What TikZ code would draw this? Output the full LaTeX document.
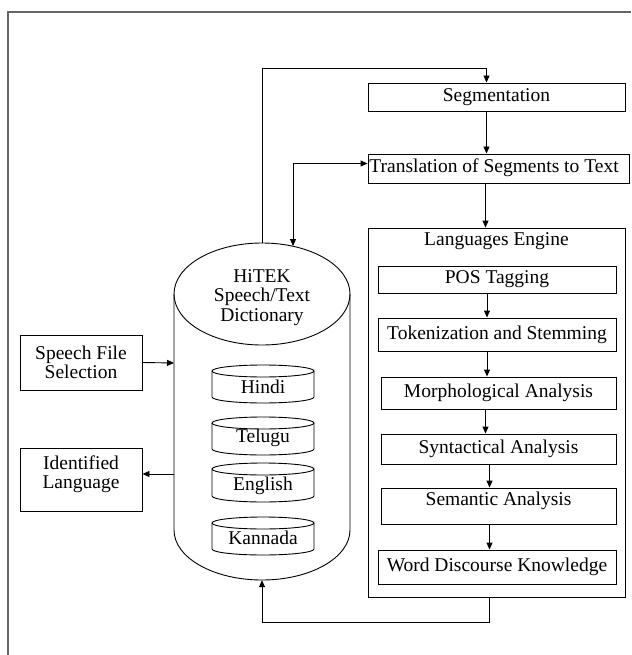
\documentclass[tikz,border=0pt]{standalone}
\usepackage{fontspec}
\setmainfont{Liberation Serif}
\usetikzlibrary{arrows.meta,calc}
\begin{document}
\begin{tikzpicture}[x=1pt,y=-1pt,
  every node/.style={font=\fontsize{19.5}{19.5}\selectfont, inner sep=0pt},
  box/.style={draw, line width=0.9pt},
  shp/.style={draw, line width=0.9pt},
  arr/.style={draw, line width=0.9pt, -{Triangle[length=7pt,width=6pt]}},
  arrtwo/.style={draw, line width=0.9pt, {Triangle[length=7pt,width=6pt]}-{Triangle[length=7pt,width=6pt]}}]
\useasboundingbox (0,0) rectangle (631,655);
% outer frame
\draw[gray!80!black, line width=1.2pt] (8,655) -- (8,12) -- (631,12);

% right column
\node[box, minimum width=257pt, minimum height=28pt] (seg) at (496.5,97) {Segmentation};
\node[box, minimum width=261pt, minimum height=29pt] (trans) at (498.5,168.5) {};
\node (transt) at (494,167.5) {Translation of Segments to Text};
\node[box, minimum width=257pt, minimum height=369pt] (eng) at (496.5,412.5) {};
\node (engt) at ([yshift=-14pt]eng.north) {Languages Engine};
\node[box, minimum width=238pt, minimum height=27pt] (pos) at (497,279.5) {POS Tagging};
\node[box, minimum width=238pt, minimum height=33pt] (tok) at (497,334.5) {Tokenization and Stemming};
\node[box, minimum width=235pt, minimum height=32pt] (morph) at (498.5,393) {Morphological Analysis};
\node[box, minimum width=235pt, minimum height=30pt] (synt) at (498.5,449) {Syntactical Analysis};
\node[box, minimum width=235pt, minimum height=36pt] (sem) at (498.5,506) {};
\node (semt) at (498.5,501) {Semantic Analysis};
\node[box, minimum width=238pt, minimum height=34pt] (word) at (497,567) {Word Discourse Knowledge};

% left boxes
\node[box, minimum width=122pt, minimum height=55pt, align=center] (speech) at (81,362.5) {Speech File\\Selection};
\node[box, minimum width=122pt, minimum height=63pt] (ident) at (81,479.5) {};
\node[align=center] (identt) at (81,474) {Identified\\Language};

% big cylinder (dictionary)
\node[minimum width=176pt, minimum height=337pt] (dict) at (262,411.5) {};
\draw[shp] (262,294) ellipse [x radius=88pt, y radius=51pt];
\draw[shp] (174,294) -- (174,530) arc[start angle=180, end angle=360, x radius=88pt, y radius=50pt] -- (350,294);
\node[align=center] (dictt) at (262,297.5) {HiTEK\\Speech/Text\\Dictionary};

% small cylinders
\foreach \nm/\txt/\yt/\yb/\ty in {hin/Hindi/371/397/387, tel/Telugu/423/449/438, eng2/English/469/496/486, kan/Kannada/523/549/538}{
  \draw[shp] (263,\yt) ellipse [x radius=51pt, y radius=6pt];
  \draw[shp] (212,\yt) -- (212,\yb) arc[start angle=180, end angle=360, x radius=51pt, y radius=6pt] -- (314,\yt);
  \node (\nm) at (263,\ty) {\txt};
}

% connection points
\coordinate (dtop2) at (293,246);
\coordinate (dleft1) at (174,363);
\coordinate (dleft2) at (174,474);
\coordinate (topy) at (486.5,68);
\coordinate (boty) at (0,622);

% connectors
\draw[arr] (dict.north) |- (topy) -- ([xshift=-10pt]seg.north);
\draw[arr] ([xshift=-10pt]seg.south) -- ([xshift=-10pt]seg.south |- trans.north);
\draw[arr] ([xshift=-13pt]trans.south) -- ([xshift=-13pt]trans.south |- eng.north);
\draw[arrtwo] ([yshift=5pt]trans.west) -| (dtop2);
\draw[arr] ([xshift=-10pt]pos.south) -- ([xshift=-10pt]tok.north);
\draw[arr] ([xshift=-10pt]tok.south) -- ([xshift=-10pt]tok.south |- morph.north);
\draw[arr] ([xshift=-13pt]morph.south) -- ([xshift=-13pt]morph.south |- synt.north);
\draw[arr] ([xshift=-9pt]synt.south) -- ([xshift=-9pt]sem.north);
\draw[arr] ([xshift=-9pt]sem.south) -- ([xshift=-9pt]sem.south |- word.north);
\draw[arr] ([xshift=-7.5pt]eng.south) -- ([xshift=-7.5pt]eng.south |- boty) -| (dict.south);
\draw[arr] (speech.east) -- (dleft1);
\draw[arr] (dleft2) -- (ident.east |- dleft2);
\end{tikzpicture}
\end{document}
